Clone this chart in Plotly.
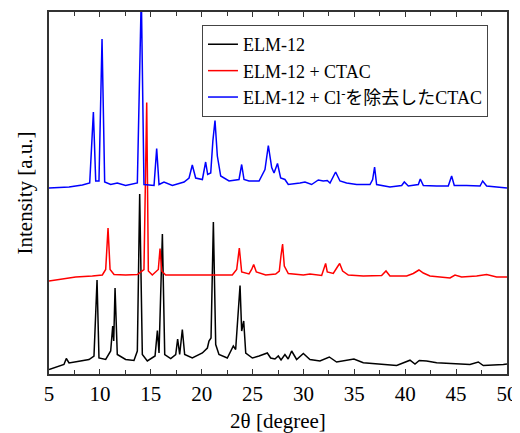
import plotly.graph_objects as go

# 2theta positions / intensities (a.u., as displayed with vertical offsets)
black_x = [5.0, 6.47, 6.7, 6.97, 7.95, 8.93, 9.42, 9.72, 9.91, 10.57, 11.06, 11.26, 11.36, 11.49, 11.71,
           12.53, 13.35, 13.68, 13.91, 14.17, 14.66, 15.42, 15.65, 15.81, 16.14, 16.37, 16.96, 17.45,
           17.64, 17.84, 18.10, 18.33, 19.08, 20.07, 20.56, 20.72, 20.92, 21.15, 21.38, 21.7, 22.52,
           22.95, 23.11, 23.34, 23.77, 23.93, 24.13, 24.33, 24.98, 25.64, 26.45, 26.78, 27.2, 27.53,
           27.8, 28.18, 28.5, 28.84, 29.33, 29.99, 30.64, 31.62, 32.54, 33.26, 34.96, 35.88, 37.52,
           39.16, 40.47, 40.96, 41.38, 42.1, 43.09, 44.72, 46.36, 47.18, 47.67, 49.64, 50.0]
black_y = [4.5, 9.5, 15.5, 11, 12.8, 14.5, 18, 94, 16, 14.5, 23, 48, 33, 86, 19.5,
           14.5, 13.5, 23, 180, 19.5, 13, 18, 43.5, 21, 140, 19.5, 15.5, 19.5,
           35, 19.5, 44.5, 19.5, 16, 21, 26, 33, 36, 152, 29.5, 19.5, 16,
           24.5, 28, 24.5, 88.5, 43, 53, 21, 16, 18, 21, 16, 15, 18,
           14, 19.5, 15, 23, 14.5, 20.5, 14.5, 13, 17, 12, 15, 11.2, 9.5,
           8.5, 13.8, 10, 13.5, 13, 11.2, 10, 9.5, 12, 8.5, 9.5, 10]

red_x = [5.0, 5.98, 7.62, 9.26, 10.24, 10.57, 10.8, 11.0, 11.39, 12.53, 13.68, 14.33, 14.6, 14.76,
         15.15, 15.74, 15.91, 16.07, 16.46, 18.76, 20.72, 23.01, 23.44, 23.7, 23.93, 24.65, 24.91,
         25.11, 25.37, 26.29, 27.27, 27.63, 27.79, 27.95, 28.12, 28.51, 29.99, 30.64, 31.79, 32.02,
         32.18, 32.34, 32.93, 33.33, 33.56, 33.85, 34.41, 35.88, 37.68, 38.11, 38.5, 40.14, 40.79,
         41.35, 41.78, 42.43, 44.4, 44.89, 45.54, 47.02, 48.0, 48.98, 50.0]
red_y = [93, 94.5, 97, 98, 99, 104.5, 146, 104.5, 99.5, 99, 99.5, 104.5, 271.5, 103,
         99, 104.5, 125.5, 103, 99, 99, 99, 99, 104.5, 126, 102, 100, 104.5,
         109.5, 102, 99, 100, 103, 118, 130, 108, 100.5, 99, 100, 98.5, 104.5,
         110.5, 102, 100.5, 107, 110.5, 103, 99, 98, 98.5, 103, 98, 98, 100.5,
         104, 101, 98, 96, 99, 97, 98, 99.5, 97, 97]

blue_x = [5.0, 6.97, 8.28, 9.0, 9.36, 9.59, 9.91, 10.21, 10.47, 11.06, 11.71, 12.53, 13.68, 14.07,
          14.33, 15.32, 15.58, 15.81, 16.3, 17.12, 18.27, 18.76, 19.08, 19.41, 20.07, 20.39, 20.59,
          20.89, 21.1, 21.31, 21.54, 21.87, 22.69, 23.67, 23.93, 24.16, 24.65, 25.64, 26.22, 26.55,
          26.88, 27.11, 27.45, 27.76, 28.18, 28.51, 29.66, 30.15, 30.8, 31.46, 31.95, 32.34, 32.61,
          33.16, 33.59, 34.24, 35.23, 36.54, 36.8, 36.99, 37.19, 38.5, 39.65, 39.91, 40.3, 41.29,
          41.48, 41.78, 43.09, 44.23, 44.56, 44.82, 46.03, 47.35, 47.61, 48.0, 50.0]
blue_y = [186, 187, 189, 191, 262, 193, 193, 335, 192, 189.5, 191, 188.5, 191, 380,
          189.5, 188.5, 225.5, 189.5, 192, 188.5, 192, 196, 209, 196, 194.5, 212, 199.5,
          201, 233, 253.5, 218, 198, 193, 194.5, 209.5, 194.5, 193, 193, 204.5, 228.5,
          206.5, 201, 210.5, 196, 194.5, 189.5, 191, 192, 189.5, 194, 193, 193.5, 191,
          202, 193, 191, 189.5, 189.5, 194.5, 207, 189.5, 187, 188.5, 192, 188, 189.5,
          195, 188.5, 188, 188, 198, 188.5, 188.5, 188, 193, 188, 186]

series_names = ["ELM-12", "ELM-12 + CTAC", "ELM-12 + Cl<sup>-</sup>を除去したCTAC"]
x_ticks = [5, 10, 15, 20, 25, 30, 35, 40, 45, 50]

FONT = '"Liberation Serif", "Times New Roman", "Noto Sans CJK JP", serif'

fig = go.Figure()
for xs, ys, name, color in [(black_x, black_y, series_names[0], "#000000"),
                            (red_x, red_y, series_names[1], "#ff0000"),
                            (blue_x, blue_y, series_names[2], "#0000ff")]:
    fig.add_trace(go.Scatter(x=xs, y=ys, mode="lines", name=name,
                             line=dict(color=color, width=1.5)))

# page body has an 8px margin; figure is sized so the plot area lands where the reference has it
fig.update_layout(
    width=512, height=425,
    margin=dict(l=41, r=13, t=4, b=59, autoexpand=False),
    paper_bgcolor="white", plot_bgcolor="white",
    font=dict(family=FONT, color="#000000", size=21),
    showlegend=True,
    legend=dict(x=0.334, y=0.964, xanchor="left", yanchor="top",
                bgcolor="white", bordercolor="#444444", borderwidth=1,
                font=dict(family=FONT, size=18), tracegroupgap=0,
                itemwidth=30),
)
fig.update_xaxes(range=[5, 50], tickvals=x_ticks, ticktext=[str(v) for v in x_ticks],
                 ticks="inside", ticklen=5, tickwidth=1.2, tickcolor="#333333",
                 minor=dict(ticks="inside", ticklen=4, dtick=2.5, tick0=5, tickcolor="#333333"),
                 showline=True, linecolor="#333333", linewidth=1.5, mirror="ticks",
                 showgrid=False, zeroline=False, automargin=False,
                 tickfont=dict(family=FONT, size=21),
                 title=dict(text="2θ [degree]", font=dict(family=FONT, size=21), standoff=11))
fig.update_yaxes(range=[0, 362], showticklabels=False, ticks="",
                 showline=True, linecolor="#333333", linewidth=1.5, mirror=True,
                 showgrid=False, zeroline=False, automargin=False,
                 title=dict(text="Intensity [a.u.]", font=dict(family=FONT, size=21), standoff=9))

fig.write_html("out.html")
